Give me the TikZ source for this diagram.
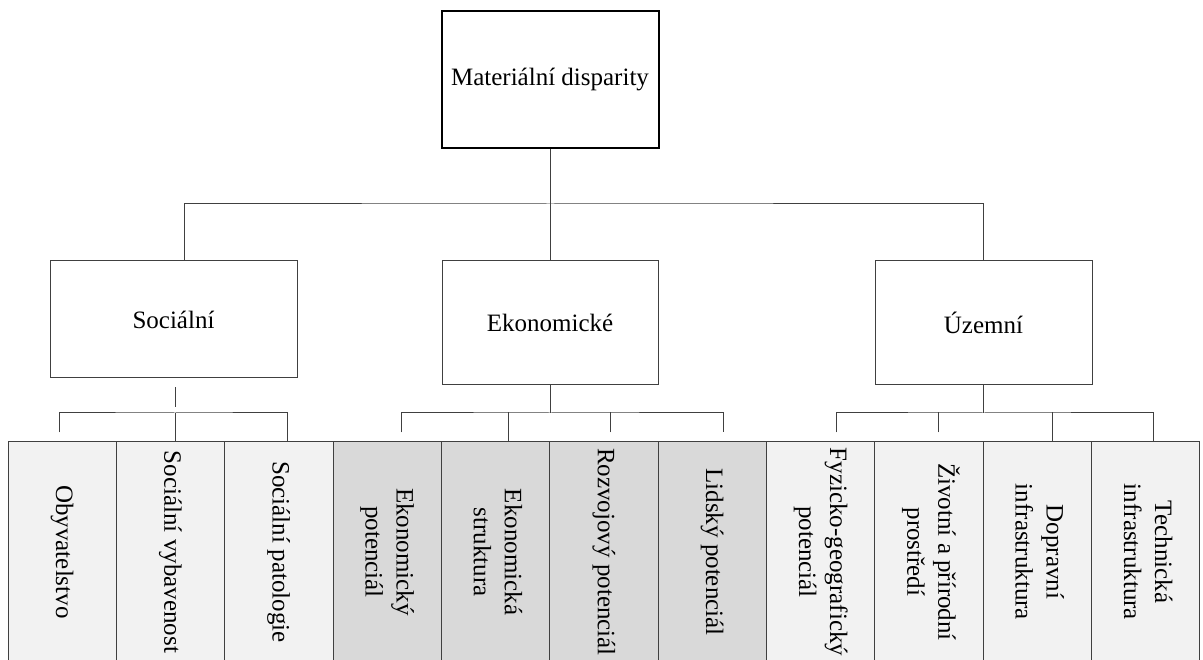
\documentclass[tikz,border=0pt]{standalone}
\usepackage{fontspec}
\setmainfont{Liberation Serif}
\usepackage{graphicx}

\definecolor{lightcol}{HTML}{F2F2F2}
\definecolor{darkcol}{HTML}{D9D9D9}
\definecolor{linecol}{HTML}{404040}

\newcommand{\vtext}[1]{\rotatebox{-90}{\begin{tabular}{@{}c@{}}#1\end{tabular}}}

\begin{document}
\begin{tikzpicture}[x=1pt, y=1pt, line width=1pt,
    font=\fontsize{25}{31}\selectfont,
    every node/.style={rectangle, draw=linecol, inner sep=0pt},
    col/.style={minimum width=108.36pt, minimum height=222pt},
    link/.style={draw=linecol}]
    \useasboundingbox (0,0) rectangle (1203,-660);
    \clip (0,0) rectangle (1203,-660);

    \node[draw=black, line width=2pt, minimum width=217pt, minimum height=137pt] (mat) at (550,-79.5) {Materiální disparity};

    \node[minimum width=247pt, minimum height=117pt] (soc) at (173.5,-319.5) {Sociální};
    \node[minimum width=216pt, minimum height=124pt] (eko) at (550,-323) {Ekonomické};
    \node[minimum width=217pt, minimum height=124pt] (uzem) at (983.5,-323) {Územní};

    \node[col, fill=lightcol] (obyv) at (62.2,-552) {\vtext{Obyvatelstvo}};
    \node[col, fill=lightcol] (vybav) at (170.5,-552) {\vtext{Sociální vybavenost}};
    \node[col, fill=lightcol] (patol) at (278.9,-552) {\vtext{Sociální patologie}};
    \node[col, fill=darkcol] (ekpot) at (387.3,-552) {\vtext{Ekonomický\\potenciál}};
    \node[col, fill=darkcol] (ekstr) at (495.6,-552) {\vtext{Ekonomická\\struktura}};
    \node[col, fill=darkcol] (rozv) at (604.0,-552) {\vtext{Rozvojový potenciál}};
    \node[col, fill=darkcol] (lids) at (712.3,-552) {\vtext{Lidský potenciál}};
    \node[col, fill=lightcol] (fyz) at (820.7,-552) {\vtext{Fyzicko-geografický\\potenciál}};
    \node[col, fill=lightcol] (ziv) at (929.1,-552) {\vtext{Životní a přírodní\\prostředí}};
    \node[col, fill=lightcol] (dopr) at (1037.4,-552) {\vtext{Dopravní\\infrastruktura}};
    \node[col, fill=lightcol] (tech) at (1145.8,-552) {\vtext{Technická\\infrastruktura}};

    \coordinate (matbus) at (550,-204);
    \coordinate (socbus) at (175,-413);
    \coordinate (ekobus) at (550,-413);
    \coordinate (uzbus) at (983.5,-413);

    \draw[link] (mat.south) -- (matbus);
    \draw[link] ([xshift=10.5pt]soc.north) |- (matbus) -| (uzem.north);
    \draw[link] (matbus) -- (eko.north);

    \draw[link, shorten <=9pt, shorten >=6pt] (soc.south -| socbus) -- (socbus);
    \draw[link, shorten <=8pt] ([xshift=-3pt]obyv.north) |- (socbus) -| ([xshift=8.1pt]patol.north);
    \draw[link] (socbus) -- (socbus |- vybav.north);

    \draw[link] (eko.south) -- (ekobus);
    \draw[link, shorten <=8pt, shorten >=8pt] ([xshift=13.7pt]ekpot.north) |- (ekobus) -| ([xshift=10.7pt]lids.north);
    \draw[link] ([xshift=12.4pt]ekstr.north) -- ++(0,28);
    \draw[link, shorten <=8pt] ([xshift=6pt]rozv.north) -- ++(0,28);

    \draw[link] (uzem.south) -- (uzbus);
    \draw[link, shorten <=8pt] ([xshift=15.3pt]fyz.north) |- (uzbus) -| ([xshift=7.2pt]tech.north);
    \draw[link, shorten <=8pt] ([xshift=9pt]ziv.north) -- ++(0,28);
    \draw[link] ([xshift=14.6pt]dopr.north) -- ++(0,28);
\end{tikzpicture}
\end{document}
